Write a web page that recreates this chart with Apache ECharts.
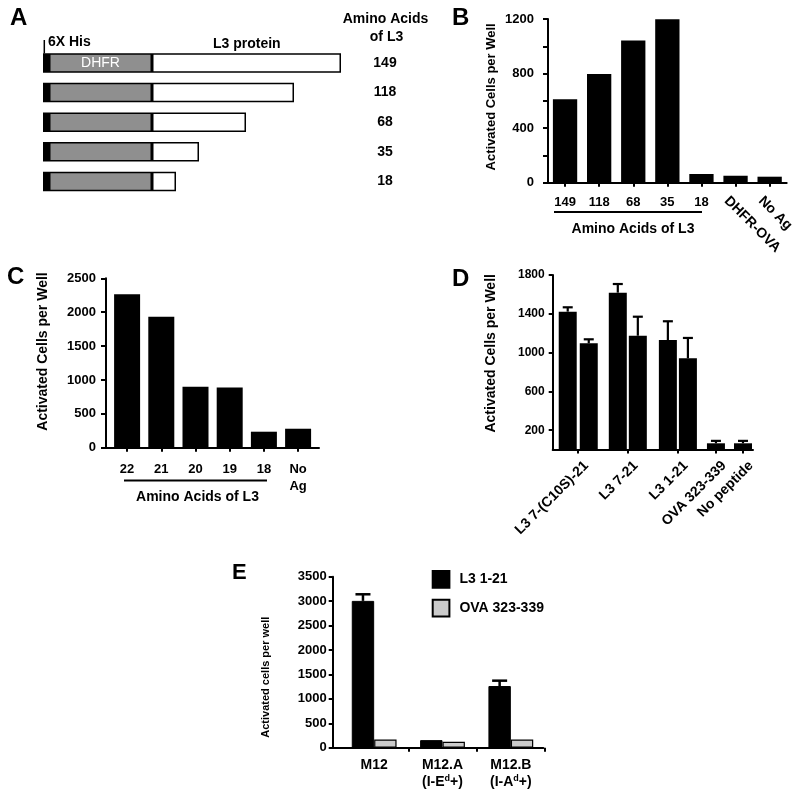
<!DOCTYPE html>
<html><head><meta charset="utf-8">
<script src="https://cdn.jsdelivr.net/npm/echarts@6/dist/echarts.min.js"></script>
<style>html,body{margin:0;padding:0;background:#fff}#c{width:800px;height:795px}</style>
</head><body><div id="c"></div>
<script>
// ---------- Panel A (construct schematic) ----------
const aRowLabels = ['149', '118', '68', '35', '18'];
const aHisTag = [6, 6, 6, 6, 6];
const aDhfr = [103, 103, 103, 103, 103];
const aL3 = [189, 142, 94, 47, 24];
// ---------- Panel B ----------
const bCategories = ['149', '118', '68', '35', '18', 'DHFR-OVA', 'No Ag'];
const bValues = [612, 797, 1042, 1198, 64, 51, 44];
const bTicks = [0, 400, 800, 1200];
// ---------- Panel C ----------
const cCategories = ['22', '21', '20', '19', '18', 'No\nAg'];
const cValues = [2265, 1932, 900, 890, 236, 280];
// ---------- Panel D ----------
const dCategories = ['L3 7-(C10S)-21', 'L3 7-21', 'L3 1-21', 'OVA 323-339', 'No peptide'];
const dValues = [1422, 1096, 1618, 1174, 1130, 941, 65, 65];
const dErrors = [45, 41, 89, 196, 193, 210, 25, 25];
const dYLabels = [200, 600, 1000, 1400, 1800];
// ---------- Panel E ----------
const eCategories = ['M12', 'M12.A', 'M12.B'];
const eRestriction = ['', 'I-E', 'I-A'];
const eSeriesNames = ['L3 1-21', 'OVA 323-339'];
const eL3 = [3005, 155, 1262];
const eL3Err = [135, 0, 110];
const eOva = [168, 122, 168];

// ---------- layout helpers (not data) ----------
const dBarPos = [1.5, 3.6, 6.5, 8.5, 11.5, 13.5, 16.3, 19.0];
const dTickPos = [2.55, 7.5, 12.5, 16.3, 19.0];
const dLabelPos = dTickPos.map(p => p + 0.8);

const FONT = '"Liberation Sans", Arial, Helvetica, sans-serif';
const bold = (s) => ({ fontFamily: FONT, fontWeight: 'bold', fontSize: s, color: '#000' });
const LINE = { show: true, lineStyle: { color: '#000', width: 2 } };
const tick = (len, extra) => Object.assign({ show: true, length: len, lineStyle: { color: '#000', width: 2 } }, extra || {});
const noSplit = { show: false };
const plain = (v) => String(v);

function errBars(xIdx, yIdx, pts, capHalf, lw, dx) {
  return {
    type: 'custom', xAxisIndex: xIdx, yAxisIndex: yIdx, data: pts, z: 5, silent: true,
    renderItem(params, api) {
      const x = api.value(0), v = api.value(1), e = api.value(2);
      if (!e) return null;
      const p0 = api.coord([x, v]), p1 = api.coord([x, v + e]);
      const cx = p0[0] + (dx || 0);
      return { type: 'group', children: [
        { type: 'line', shape: { x1: cx, y1: p0[1], x2: cx, y2: p1[1] }, style: { stroke: '#000', lineWidth: lw } },
        { type: 'line', shape: { x1: cx - capHalf, y1: p1[1], x2: cx + capHalf, y2: p1[1] }, style: { stroke: '#000', lineWidth: lw } }
      ] };
    }
  };
}

const chart = echarts.init(document.getElementById('c'), null, { renderer: 'canvas' });

const txt = (text, x, y, size, align, extra) => ({
  type: 'text', x: x, y: y, silent: true,
  style: Object.assign({ text: text, fontFamily: FONT, fontWeight: 'bold', fontSize: size, fill: '#000',
    align: align || 'left', verticalAlign: 'middle' }, extra || {})
});

const option = {
  animation: false,
  backgroundColor: '#fff',
  grid: [
    { left: 43, top: 48.2, width: 300, height: 148 },          // 0 A
    { left: 548, top: 19, width: 238.7, height: 163.7 },        // 1 B
    { left: 539, top: 19, width: 238.7, height: 163.7 },        // 2 B rotated labels
    { left: 106, top: 278.3, width: 213, height: 169.4 },       // 3 C axes
    { left: 110, top: 278.3, width: 205.2, height: 169.4 },     // 4 C bars
    { left: 552.7, top: 275, width: 200.3, height: 174.6 },     // 5 D
    { left: 332.7, top: 576.7, width: 210.6, height: 171 },     // 6 E axes
    { left: 340, top: 576.7, width: 205, height: 171 }          // 7 E bars
  ],
  legend: {
    data: eSeriesNames, orient: 'vertical', left: 431.7, top: 570, itemGap: 10, padding: 0,
    itemWidth: 16.7, itemHeight: 16.7, icon: 'rect', selectedMode: false,
    textStyle: Object.assign(bold(14), { padding: [0, 0, 0, 5] })
  },
  xAxis: [
    { type: 'value', gridIndex: 0, min: 0, max: 300, show: false },
    { type: 'category', gridIndex: 1, data: bCategories, axisLine: LINE,
      axisTick: tick(4, { alignWithLabel: true }), splitLine: noSplit,
      axisLabel: Object.assign(bold(13), { margin: 13, interval: 0, formatter: (v, i) => i < 5 ? v : '' }) },
    { type: 'category', gridIndex: 2, data: bCategories, axisLine: { show: false }, axisTick: { show: false },
      axisLabel: Object.assign(bold(14), { margin: 16, rotate: -45, interval: 0, formatter: (v, i) => i >= 5 ? v : '' }) },
    { type: 'value', gridIndex: 3, min: 0, max: 1, axisLine: LINE, axisTick: { show: false },
      axisLabel: { show: false }, splitLine: noSplit },
    { type: 'category', gridIndex: 4, data: cCategories, axisLine: { show: false },
      axisTick: tick(4, { alignWithLabel: true }), splitLine: noSplit,
      axisLabel: Object.assign(bold(13), { margin: 13, interval: 0, lineHeight: 17 }) },
    { type: 'value', gridIndex: 5, min: 0, max: 20, axisLine: LINE, splitLine: noSplit,
      axisTick: tick(4, { customValues: dTickPos }),
      axisLabel: Object.assign(bold(14), { customValues: dLabelPos, rotate: 45, margin: 14,
        formatter: (v) => { let best = 0; dLabelPos.forEach((p, i) => { if (Math.abs(p - v) < Math.abs(dLabelPos[best] - v)) best = i; }); return dCategories[best]; } }) },
    { type: 'value', gridIndex: 6, min: 0, max: 1, axisLine: LINE, axisTick: { show: false },
      axisLabel: { show: false }, splitLine: noSplit },
    { type: 'category', gridIndex: 7, data: eCategories, axisLine: { show: false },
      axisTick: tick(4, { alignWithLabel: false, interval: (i) => i === 1 || i === 2 }), splitLine: noSplit,
      axisLabel: { margin: 9, interval: 0,
        formatter: (v, i) => eRestriction[i] ? '{a|' + v + '}\n{a|(' + eRestriction[i] + '}{s|d}{a|+)}' : '{a|' + v + '}',
        rich: { a: Object.assign(bold(14), { lineHeight: 17 }), s: Object.assign(bold(9), { lineHeight: 17, padding: [0, 0, 7, 0] }) } } }
  ],
  yAxis: [
    { type: 'category', gridIndex: 0, data: aRowLabels, inverse: true, position: 'right',
      axisLine: { show: false }, axisTick: { show: false },
      axisLabel: Object.assign(bold(14), { align: 'center', margin: 42 }) },
    { type: 'value', gridIndex: 1, min: 0, max: 1200, interval: 400, axisLine: LINE, axisTick: tick(5),
      minorTick: { show: true, splitNumber: 2, length: 5, lineStyle: { color: '#000', width: 2 } },
      splitLine: noSplit, minorSplitLine: noSplit,
      axisLabel: Object.assign(bold(13), { margin: 14, formatter: plain }),
      name: 'Activated Cells per Well', nameLocation: 'middle', nameRotate: 90, nameGap: 50,
      nameTextStyle: Object.assign(bold(13), { padding: [0, 0, 0, 8] }) },
    { type: 'value', gridIndex: 2, min: 0, max: 1200, show: false },
    { type: 'value', gridIndex: 3, min: 0, max: 2500, interval: 500, axisLine: LINE, axisTick: tick(5),
      splitLine: noSplit, axisLabel: Object.assign(bold(13), { margin: 10, formatter: plain }),
      name: 'Activated Cells per Well', nameLocation: 'middle', nameRotate: 90, nameGap: 56,
      nameTextStyle: Object.assign(bold(14), { padding: [0, 0, 0, 23] }) },
    { type: 'value', gridIndex: 4, min: 0, max: 2500, show: false },
    { type: 'value', gridIndex: 5, min: 0, max: 1800, axisLine: LINE,
      axisTick: tick(4, { customValues: dYLabels }), splitLine: noSplit,
      axisLabel: Object.assign(bold(12), { margin: 8, customValues: dYLabels, formatter: plain }),
      name: 'Activated Cells per Well', nameLocation: 'middle', nameRotate: 90, nameGap: 55,
      nameTextStyle: Object.assign(bold(14), { padding: [0, 0, 0, 18] }) },
    { type: 'value', gridIndex: 6, min: 0, max: 3500, interval: 500, axisLine: LINE, axisTick: tick(4),
      splitLine: noSplit, axisLabel: Object.assign(bold(13), { margin: 6, formatter: plain }),
      name: 'Activated cells per well', nameLocation: 'middle', nameRotate: 90, nameGap: 61,
      nameTextStyle: Object.assign(bold(11), { padding: [0, 30, 0, 0] }) },
    { type: 'value', gridIndex: 7, min: 0, max: 3500, show: false }
  ],
  series: [
    // A
    { type: 'bar', xAxisIndex: 0, yAxisIndex: 0, stack: 'a', barWidth: 19.5, data: aHisTag,
      itemStyle: { color: '#000', borderColor: '#000', borderWidth: 1.5 } },
    { type: 'bar', xAxisIndex: 0, yAxisIndex: 0, stack: 'a', barWidth: 19.5,
      data: aDhfr.map((v, i) => i === 0 ? { value: v, label: { show: true, formatter: 'DHFR', position: 'inside',
        color: '#fff', fontFamily: FONT, fontSize: 14, fontWeight: 'normal' } } : v),
      itemStyle: { color: '#8f8f8f', borderColor: '#000', borderWidth: 1.5 } },
    { type: 'bar', xAxisIndex: 0, yAxisIndex: 0, stack: 'a', barWidth: 19.5, data: aL3,
      itemStyle: { color: '#fff', borderColor: '#000', borderWidth: 1.5 } },
    // B
    { type: 'bar', xAxisIndex: 1, yAxisIndex: 1, data: bValues, barWidth: 24.3, itemStyle: { color: '#000' } },
    // C
    { type: 'bar', xAxisIndex: 4, yAxisIndex: 4, data: cValues, barWidth: 26, itemStyle: { color: '#000' } },
    // D
    { type: 'bar', xAxisIndex: 5, yAxisIndex: 5, barWidth: 18, itemStyle: { color: '#000' },
      data: dValues.map((v, i) => [dBarPos[i], v]) },
    errBars(5, 5, dValues.map((v, i) => [dBarPos[i], v, dErrors[i]]), 5, 2.2, 0),
    // E
    { type: 'bar', name: eSeriesNames[0], xAxisIndex: 7, yAxisIndex: 7, data: eL3, barWidth: 22.4, barGap: '0%',
      itemStyle: { color: '#000', borderColor: '#000', borderWidth: 1 } },
    { type: 'bar', name: eSeriesNames[1], xAxisIndex: 7, yAxisIndex: 7, data: eOva, barWidth: 22.4, barGap: '0%',
      itemStyle: { color: '#cbcbcb', borderColor: '#000', borderWidth: 1.2 } },
    errBars(7, 7, eL3.map((v, i) => [i, v, eL3Err[i]]), 7.5, 2.5, -11.2)
  ],
  graphic: [
    txt('A', 10, 18.5, 24), txt('B', 452, 18.5, 24), txt('C', 7, 277, 24), txt('D', 452, 279.5, 24), txt('E', 232, 573, 22),
    txt('6X His', 48, 42, 14), txt('L3 protein', 213, 44, 14),
    txt('Amino Acids', 385.5, 19, 14, 'center'), txt('of L3', 386.5, 37, 14, 'center'),
    { type: 'line', silent: true, shape: { x1: 44.3, y1: 40, x2: 44.3, y2: 53.5 }, style: { stroke: '#000', lineWidth: 1.5 } },
    { type: 'line', silent: true, shape: { x1: 554, y1: 212, x2: 702, y2: 212 }, style: { stroke: '#000', lineWidth: 2 } },
    txt('Amino Acids of L3', 633, 229.5, 14, 'center'),
    { type: 'line', silent: true, shape: { x1: 124, y1: 480.5, x2: 267, y2: 480.5 }, style: { stroke: '#000', lineWidth: 2 } },
    txt('Amino Acids of L3', 197.5, 497.5, 14, 'center')
  ]
};
chart.setOption(option);
</script></body></html>
